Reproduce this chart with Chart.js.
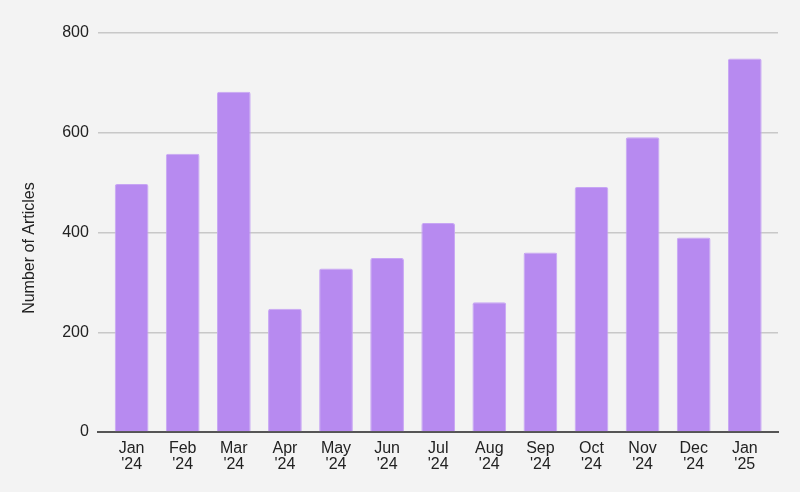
<!DOCTYPE html>
<html>
<head>
<meta charset="utf-8">
<script src="https://cdn.jsdelivr.net/npm/chart.js@4"></script>
<style>
  html, body { margin: 0; padding: 0; background: #f3f3f3; }
  #wrap { width: 800px; height: 492px; }
</style>
</head>
<body>
<div id="wrap"><canvas id="c"></canvas></div>
<script>
const months = ['Jan', 'Feb', 'Mar', 'Apr', 'May', 'Jun', 'Jul', 'Aug', 'Sep', 'Oct', 'Nov', 'Dec', 'Jan'];
const years = ["'24", "'24", "'24", "'24", "'24", "'24", "'24", "'24", "'24", "'24", "'24", "'24", "'25"];
const articles = [497, 558, 682, 247, 328, 349, 419, 260, 360, 491, 591, 390, 749];
const yTicks = [0, 200, 400, 600, 800];

const FONT = "'Liberation Sans', Arial, sans-serif";

const bgPlugin = {
  id: 'bg',
  beforeDraw(chart) {
    const ctx = chart.ctx;
    ctx.save();
    ctx.fillStyle = '#f3f3f3';
    ctx.fillRect(0, 0, chart.width, chart.height);
    ctx.restore();
  }
};

new Chart(document.getElementById('c'), {
  type: 'bar',
  data: {
    datasets: [{
      data: articles.map((v, i) => ({ x: i, y: v })),
      backgroundColor: '#b78af0',
      borderColor: '#c7a5f4',
      borderWidth: 1,
      borderRadius: 2,
      borderSkipped: 'bottom',
      categoryPercentage: 1,
      barPercentage: 0.66
    }]
  },
  options: {
    responsive: true,
    maintainAspectRatio: false,
    animation: false,
    layout: { padding: { top: 33, right: 22, left: 12, bottom: 10 } },
    plugins: { legend: { display: false }, tooltip: { enabled: false } },
    scales: {
      x: {
        type: 'linear',
        offset: false,
        min: -0.66,
        max: 12.65,
        afterBuildTicks(scale) {
          scale.ticks = months.map((_, i) => ({ value: i }));
        },
        ticks: {
          autoSkip: false,
          maxRotation: 0,
          padding: 9,
          color: '#222',
          font: { family: FONT, size: 16, lineHeight: 1.0 },
          callback: (v) => [months[v], years[v]]
        },
        grid: { display: false, drawTicks: false },
        border: { display: true, color: '#555', width: 2 }
      },
      y: {
        min: 0,
        max: 800,
        afterBuildTicks(scale) {
          scale.ticks = yTicks.map(v => ({ value: v }));
        },
        ticks: {
          padding: 9,
          color: '#222',
          font: { family: FONT, size: 16 }
        },
        grid: { color: '#c8c8c8', lineWidth: 1.5, drawTicks: false },
        border: { display: false },
        title: {
          display: true,
          text: 'Number of Articles       ',
          color: '#222',
          font: { family: FONT, size: 16 },
          padding: { top: 8, bottom: 14 }
        }
      }
    }
  },
  plugins: [bgPlugin]
});
</script>
</body>
</html>
